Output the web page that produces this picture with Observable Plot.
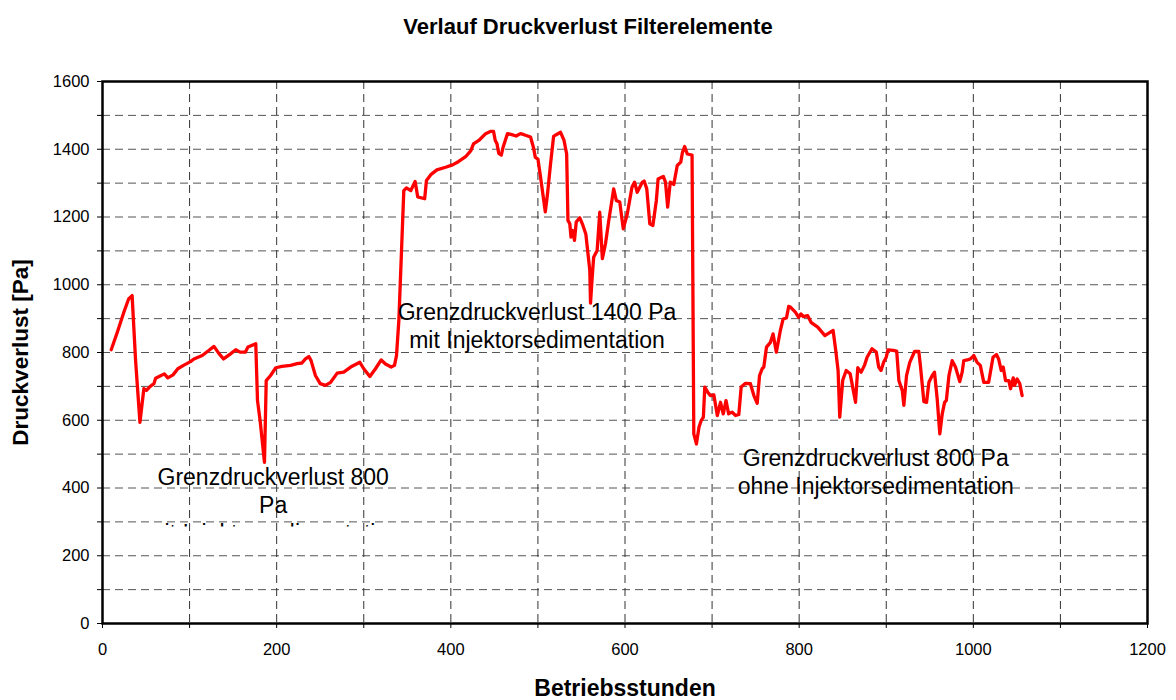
<!DOCTYPE html>
<html>
<head>
<meta charset="utf-8">
<script src="https://cdn.jsdelivr.net/npm/d3@7"></script>
<script src="https://cdn.jsdelivr.net/npm/@observablehq/plot@0.6"></script>
<style>
  body { margin: 0; background: white; font-family: "Liberation Sans", Arial, sans-serif; }
  #title { height: 54px; line-height: 54px; text-align: center; font-weight: bold; font-size: 22px; color: #000; }
</style>
</head>
<body>
<div id="title">Verlauf Druckverlust Filterelemente</div>
<div id="chart"></div>
<script>
// Betriebsstunden (x) and Druckverlust in Pa (y)
const hours = [
  10, 17, 24.5, 30, 34, 38, 43, 47.5, 50.5, 54, 59, 61, 65, 71, 75, 81, 86.5, 93, 101, 105,
  114.5, 122, 128, 134, 139, 147, 153, 158, 164, 167, 176, 178, 181, 186, 188, 193, 199, 206, 216, 223.5,
  229, 233, 237, 239.5, 244.5, 250, 256, 262, 269.5, 277, 285, 295.5, 300, 307, 313.5, 320, 325, 331.5, 335.3, 337.6,
  340.3, 346, 349, 354, 359, 362, 370, 372, 377, 384, 394, 402, 409, 417, 423, 426, 433, 440, 446, 449,
  451, 453, 455, 458, 460, 465, 470, 475, 480, 484, 491.5, 495, 497, 500, 503, 508.5, 511, 514.5, 518, 521,
  526, 530, 533, 534.5, 536.6, 538, 540, 542, 544, 548, 551, 555, 559.6, 560.4, 562.3, 564, 568, 571, 574, 577.6,
  581.4, 587, 590, 594, 598, 602.6, 608, 611, 614, 620, 622, 625, 628.5, 632, 636, 638, 644, 646.5, 649, 652,
  656, 660, 664, 666, 668.5, 671.5, 677, 679, 682, 685, 687.5, 690, 691.6, 695, 698, 702, 706, 709.7, 712.8, 716,
  719, 723, 727, 730.7, 733.4, 738.4, 744, 748, 751.8, 754.5, 757.5, 759.4, 762.5, 767, 770, 773.8, 778.4, 781.6, 785.4, 788,
  790, 795.6, 799.4, 802, 804.8, 809.7, 813.6, 821.3, 829.6, 832.6, 839, 842, 844.7, 846.6, 850, 854, 858.6, 864.7, 867.3, 871.2,
  875, 878, 883.6, 888.6, 891.3, 894, 897, 900, 902, 908, 912, 914.5, 918.4, 920.2, 923.3, 927, 932.5, 937.4, 939.4, 943.2,
  946.3, 949, 952.8, 955.4, 958.5, 961.5, 964.3, 967, 969, 972, 975.7, 979.5, 984.4, 987.2, 989, 993, 996.7, 1000.5, 1004.3, 1008,
  1012, 1017.6, 1022.6, 1026.6, 1029, 1032, 1034.3, 1037, 1040.8, 1042.7, 1045.8, 1047.3, 1050.3, 1053.3, 1056
];
const pressure = [
  808, 860, 919, 958, 968, 776, 594, 693, 688, 698, 708, 724, 729, 737, 725, 734, 752, 762, 773, 781,
  791, 806, 818, 796, 781, 796, 808, 801, 801, 816, 826, 658, 599, 476, 717, 732, 755, 759, 762, 767,
  769, 781, 788, 776, 732, 708, 703, 712, 739, 742, 757, 771, 752, 729, 752, 778, 766, 757, 762, 791,
  894, 1278, 1286, 1278, 1305, 1259, 1254, 1308, 1325, 1339, 1347, 1354, 1364, 1378, 1396, 1416, 1428, 1446, 1453, 1453,
  1426, 1416, 1388, 1383, 1406, 1446, 1443, 1439, 1446, 1443, 1436, 1404, 1376, 1371, 1318, 1215, 1268, 1357, 1438, 1443,
  1450, 1426, 1386, 1190, 1180, 1141, 1160, 1131, 1185, 1198, 1180, 1150, 1042, 946, 1022, 1081, 1101, 1214, 1077, 1121,
  1190, 1283, 1249, 1244, 1165, 1209, 1288, 1303, 1273, 1303, 1306, 1283, 1180, 1175, 1249, 1312, 1320, 1303, 1229, 1303,
  1296, 1352, 1362, 1391, 1408, 1386, 1383, 560, 530, 580, 599, 609, 698, 683, 673, 675, 614, 653, 619, 658,
  619, 624, 614, 617, 698, 709, 708, 673, 650, 732, 752, 757, 816, 830, 855, 801, 865, 899, 902, 936,
  934, 919, 904, 914, 906, 909, 889, 875, 850, 855, 865, 806, 747, 609, 718, 747, 737, 653, 755, 742,
  762, 786, 811, 801, 757, 747, 771, 786, 808, 806, 804, 717, 688, 644, 732, 771, 803, 803, 757, 655,
  653, 712, 732, 742, 663, 560, 619, 653, 658, 732, 776, 757, 714, 742, 776, 778, 781, 791, 771, 762,
  712, 712, 786, 794, 781, 747, 757, 717, 717, 693, 725, 703, 722, 708, 673
];
const xTicks = d3.range(0, 1201, 100);
const yTicks = d3.range(0, 1601, 100);
const xGrid = d3.range(100, 1200, 100);
const yGrid = d3.range(100, 1600, 100);
const xLabel = "Betriebsstunden";
const yLabel = "Druckverlust [Pa]";
const annotations = [
  {x: 196, y: 354, text: "Grenzdruckverlust 800\nPa\nmit Injektorsedimentation", id: "left"},
  {x: 499, y: 880, text: "Grenzdruckverlust 1400 Pa\nmit Injektorsedimentation", id: "mid"},
  {x: 888, y: 449, text: "Grenzdruckverlust 800 Pa\nohne Injektorsedimentation", id: "right"}
];

const data = hours.map((h, i) => ({h, p: pressure[i]}));
const fmt = d => d % 200 === 0 ? String(d) : "";

const plot = Plot.plot({
  width: 1176,
  height: 646,
  marginLeft: 102,
  marginRight: 29,
  marginTop: 27,
  marginBottom: 77,
  style: {fontFamily: "'Liberation Sans', Arial, sans-serif", fontSize: "16.5px", background: "white", color: "#000", overflow: "visible"},
  x: {domain: [0, 1200], ticks: xTicks, tickFormat: fmt, tickSize: 5, tickPadding: 15, label: null},
  y: {domain: [0, 1600], ticks: yTicks, tickFormat: fmt, tickSize: 5, tickPadding: 8, label: null},
  marks: [
    Plot.ruleY(yGrid, {stroke: "#555", strokeWidth: 1, strokeDasharray: "8,5"}),
    Plot.ruleX(xGrid, {stroke: "#333", strokeWidth: 1, strokeDasharray: "8,5"}),
    Plot.line(data, {x: "h", y: "p", stroke: "#ff0000", strokeWidth: 3.3, strokeLinejoin: "round"}),
    Plot.text(annotations, {x: "x", y: "y", text: "text", fontSize: 23, lineHeight: 1.22, fill: "#000"}),
    Plot.frame({stroke: "#000", strokeWidth: 2.5}),
    Plot.text([yLabel], {frameAnchor: "left", dx: -82, rotate: -90, textAnchor: "middle", lineAnchor: "middle", fontSize: 22.5, fontWeight: "bold", fill: "#000"}),
    Plot.text([xLabel], {frameAnchor: "bottom", dy: 65, textAnchor: "middle", lineAnchor: "middle", fontSize: 23, fontWeight: "bold", fill: "#000"})
  ]
});

// the left annotation box is cut off below its second line in the reference
const svg = d3.select(plot.tagName.toLowerCase() === "svg" ? plot : plot.querySelector("svg"));
svg.append("defs").append("clipPath").attr("id", "clipLeft")
  .attr("clipPathUnits", "userSpaceOnUse")
  .append("rect").attr("x", 0).attr("y", 0).attr("width", 1176).attr("height", 472);
svg.selectAll("text").each(function() {
  if (this.textContent.startsWith("Grenzdruckverlust 800Pa")) {
    const g = document.createElementNS("http://www.w3.org/2000/svg", "g");
    g.setAttribute("clip-path", "url(#clipLeft)");
    this.parentNode.insertBefore(g, this);
    g.appendChild(this);
  }
});

document.getElementById("chart").appendChild(plot);
</script>
</body>
</html>
